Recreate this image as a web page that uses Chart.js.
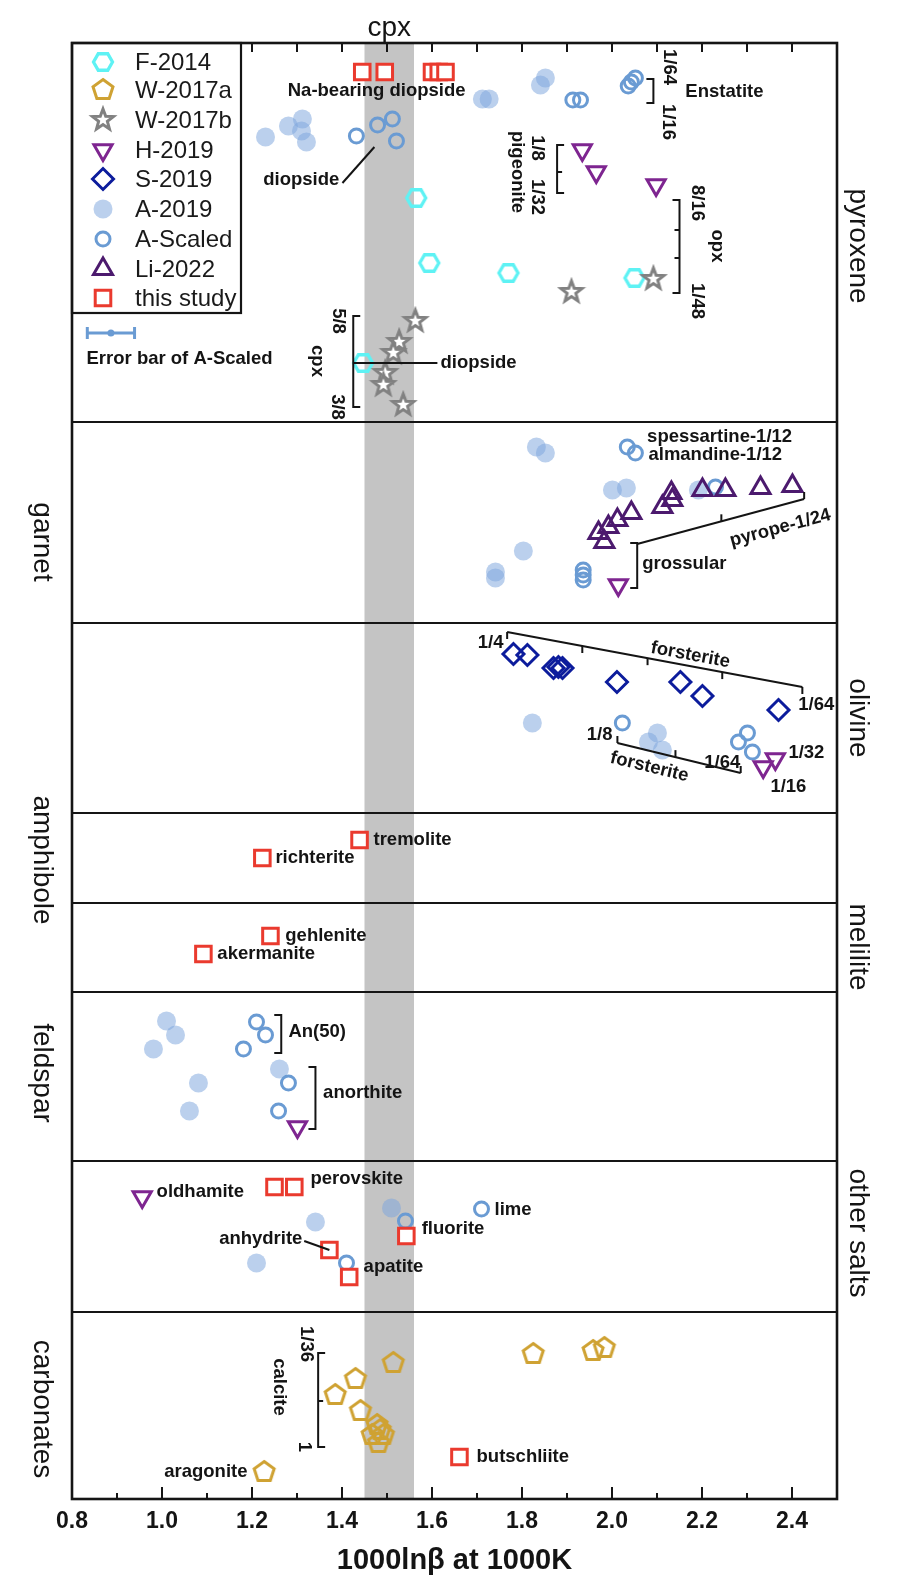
<!DOCTYPE html>
<html>
<head>
<meta charset="utf-8">
<script src="https://cdn.jsdelivr.net/npm/chart.js@4.4.1/dist/chart.umd.min.js"></script>
<style>
  html, body { margin: 0; padding: 0; background: #fff; }
  #wrap { width: 903px; height: 1592px; position: relative; }
</style>
</head>
<body>
<div id="wrap"><canvas id="chart"></canvas></div>
<script>
// ---- data ----
// x = 1000lnβ at 1000K, y = row position inside the stacked mineral panels (0 = top)
const xTicks = [0.8, 1.0, 1.2, 1.4, 1.6, 1.8, 2.0, 2.2, 2.4];
const cpxBand = [1.45, 1.56];
const panelEdges = [0, 379, 580, 770, 860, 949, 1118, 1269, 1456];
const panelNames = ['pyroxene', 'garnet', 'olivine', 'amphibole', 'melilite', 'feldspar', 'other salts', 'carbonates'];
const panelSides = ['right', 'left', 'right', 'left', 'right', 'left', 'right', 'left'];
const panelLabelY = [203, 499, 675, 817, 904, 1030, 1190, 1366];

const F2014 = [[1.565, 155], [1.594, 220], [1.770, 230], [2.050, 235], [1.447, 320]];
const W2017a = [[1.514, 1320], [1.430, 1336], [1.385, 1352], [1.441, 1368], [1.478, 1382], [1.485, 1387],
  [1.467, 1392], [1.492, 1392], [1.481, 1400], [1.227, 1429], [1.825, 1311], [1.958, 1308], [1.983, 1305]];
const W2017b = [[1.563, 278], [1.527, 299], [1.514, 310], [1.496, 330], [1.492, 342], [1.536, 362], [1.910, 249], [2.092, 236]];
const H2019 = [[1.934, 107], [1.965, 129], [2.098, 142], [2.014, 542], [2.363, 716], [2.336, 724], [1.301, 1084], [0.956, 1154]];
const S2019 = [[1.781, 611], [1.812, 612], [1.870, 625], [1.881, 624], [1.890, 625], [2.011, 639], [2.152, 639], [2.201, 653], [2.370, 667]];
const A2019 = [[1.230, 94], [1.281, 83], [1.312, 76], [1.310, 88], [1.321, 99], [1.712, 56], [1.727, 56], [1.841, 42], [1.852, 35],
  [1.832, 404], [1.852, 410], [2.001, 447], [2.032, 445], [1.803, 508], [1.741, 529], [1.741, 535], [2.192, 447],
  [1.823, 680], [2.081, 699], [2.101, 690], [2.112, 707],
  [1.010, 978], [1.030, 992], [0.981, 1006], [1.081, 1040], [1.061, 1068], [1.261, 1026],
  [1.341, 1179], [1.210, 1220], [1.510, 1165]];
const AScaled = [[1.432, 93], [1.479, 82], [1.512, 76], [1.521, 98], [1.913, 57], [1.930, 57], [2.036, 43], [2.043, 39], [2.052, 35],
  [2.034, 404], [2.052, 410], [1.936, 527], [1.936, 532], [1.936, 537], [2.230, 444],
  [2.023, 680], [2.301, 690], [2.281, 699], [2.312, 709],
  [1.210, 979], [1.230, 992], [1.181, 1006], [1.281, 1040], [1.259, 1068],
  [1.410, 1220], [1.541, 1178], [1.710, 1166]];
const Li2022 = [[1.970, 490], [1.992, 484], [2.012, 477], [2.043, 470], [1.983, 499], [2.112, 464], [2.132, 450], [2.134, 457],
  [2.201, 447], [2.252, 447], [2.330, 445], [2.401, 443]];
const thisStudy = [[1.445, 29], [1.495, 29], [1.600, 29], [1.615, 29], [1.630, 29], [1.439, 797], [1.223, 815], [1.241, 893], [1.092, 911],
  [1.250, 1144], [1.294, 1144], [1.372, 1207], [1.416, 1234], [1.543, 1193], [1.661, 1414]];

// annotation texts: [text, x, y, align, rotation deg]
const notes = [
  ['Na-bearing diopside', 1.477, 48, 'center', 0],
  ['diopside', 1.394, 137, 'right', 0],
  ['Enstatite', 2.163, 49, 'left', 0],
  ['1/64', 2.127, 24, 'center', 90],
  ['1/16', 2.125, 79, 'center', 90],
  ['1/8', 1.834, 105, 'center', 90],
  ['1/32', 1.834, 154, 'center', 90],
  ['pigeonite', 1.790, 129, 'center', 90],
  ['8/16', 2.190, 160, 'center', 90],
  ['opx', 2.234, 203, 'center', 90],
  ['1/48', 2.190, 258, 'center', 90],
  ['5/8', 1.392, 278, 'center', 90],
  ['cpx', 1.345, 318, 'center', 90],
  ['3/8', 1.388, 364, 'center', 90],
  ['diopside', 1.619, 320, 'left', 0],
  ['Error bar of A-Scaled', 1.039, 316, 'center', 0],
  ['spessartine-1/12', 2.078, 394, 'left', 0],
  ['almandine-1/12', 2.081, 412, 'left', 0],
  ['grossular', 2.067, 521, 'left', 0],
  ['pyrope-1/24', 2.374, 485, 'center', -15],
  ['1/4', 1.759, 600, 'right', 0],
  ['forsterite', 2.174, 612, 'center', 10.6],
  ['1/64', 2.414, 662, 'left', 0],
  ['1/8', 2.001, 692, 'right', 0],
  ['1/64', 2.245, 720, 'center', 0],
  ['forsterite', 2.083, 724, 'center', 13.7],
  ['1/32', 2.392, 710, 'left', 0],
  ['1/16', 2.352, 744, 'left', 0],
  ['tremolite', 1.470, 797, 'left', 0],
  ['richterite', 1.252, 815, 'left', 0],
  ['gehlenite', 1.274, 893, 'left', 0],
  ['akermanite', 1.123, 911, 'left', 0],
  ['An(50)', 1.281, 989, 'left', 0],
  ['anorthite', 1.358, 1050, 'left', 0],
  ['oldhamite', 0.988, 1149, 'left', 0],
  ['perovskite', 1.330, 1136, 'left', 0],
  ['anhydrite', 1.312, 1196, 'right', 0],
  ['apatite', 1.448, 1224, 'left', 0],
  ['fluorite', 1.577, 1186, 'left', 0],
  ['lime', 1.739, 1167, 'left', 0],
  ['1/36', 1.321, 1301, 'center', 90],
  ['calcite', 1.261, 1344, 'center', 90],
  ['1', 1.316, 1404, 'center', 90],
  ['aragonite', 1.190, 1429, 'right', 0],
  ['butschliite', 1.699, 1414, 'left', 0]
];
// straight leader lines
const leaders = [
  [[1.401, 140], [1.472, 104]],
  [[1.425, 320], [1.612, 320]],
  [[1.316, 1198], [1.372, 1207]]
];
// vertical brackets: [x, yTop, yBottom, middle ticks, tick direction]
const brackets = [
  [2.092, 36, 60, [], -1],
  [1.878, 102, 150, [129], 1],
  [2.150, 157, 250, [187, 215], -1],
  [1.425, 273, 364, [320], 1],
  [2.056, 500, 545, [], -1],
  [1.265, 972, 1010, [], -1],
  [1.341, 1024, 1086, [], -1],
  [1.347, 1310, 1404, [1358], 1]
];
// sloped brackets: [start, end, tick x values, tick direction]
const slopes = [
  [[2.056, 501], [2.427, 456], [2.243, 2.427], -1],
  [[1.767, 589], [2.423, 644], [1.767, 1.934, 2.079, 2.245, 2.423], 1],
  [[2.012, 700], [2.286, 730], [2.012, 2.141, 2.286], -1]
];

// ---- marker images ----
function marker(size, draw) {
  const c = document.createElement('canvas');
  c.width = size; c.height = size;
  const g = c.getContext('2d');
  g.translate(size / 2, size / 2);
  draw(g);
  return c;
}
function poly(g, pts) {
  g.beginPath();
  pts.forEach((p, i) => i ? g.lineTo(p[0], p[1]) : g.moveTo(p[0], p[1]));
  g.closePath();
}
function ngon(n, r, rot) {
  const pts = [];
  for (let i = 0; i < n; i++) {
    const a = rot + i * 2 * Math.PI / n;
    pts.push([r * Math.cos(a), r * Math.sin(a)]);
  }
  return pts;
}
const hexImg = marker(28, g => {
  poly(g, ngon(6, 9.5, 0));
  g.lineWidth = 3.3; g.strokeStyle = '#5ef2f4'; g.stroke();
});
const pentImg = marker(30, g => {
  poly(g, ngon(5, 10.5, -Math.PI / 2));
  g.lineWidth = 3; g.strokeStyle = '#cfa233'; g.stroke();
});
const starImg = marker(30, g => {
  const pts = [];
  for (let i = 0; i < 10; i++) {
    const a = -Math.PI / 2 + i * Math.PI / 5;
    const r = i % 2 ? 4.6 : 11;
    pts.push([r * Math.cos(a), r * Math.sin(a)]);
  }
  poly(g, pts);
  g.fillStyle = '#fff'; g.fill();
  g.lineWidth = 3; g.lineJoin = 'miter'; g.strokeStyle = '#818181'; g.stroke();
});

const toPts = arr => arr.map(p => ({ x: p[0], y: p[1] }));

const series = [
  { label: 'F-2014', data: F2014, pointStyle: hexImg },
  { label: 'W-2017a', data: W2017a, pointStyle: pentImg },
  { label: 'W-2017b', data: W2017b, pointStyle: starImg },
  { label: 'H-2019', data: H2019, pointStyle: 'triangle', rotation: 180, radius: 10.5, borderWidth: 3,
    borderColor: '#7e2590', backgroundColor: 'rgba(0,0,0,0)' },
  { label: 'S-2019', data: S2019, pointStyle: 'rectRot', radius: 10.5, borderWidth: 3,
    borderColor: '#0c1c9c', backgroundColor: 'rgba(0,0,0,0)' },
  { label: 'A-2019', data: A2019, pointStyle: 'circle', radius: 9.5, borderWidth: 0,
    borderColor: 'rgba(0,0,0,0)', backgroundColor: 'rgba(125,165,220,0.52)' },
  { label: 'A-Scaled', data: AScaled, pointStyle: 'circle', radius: 7, borderWidth: 3,
    borderColor: '#6a9bd3', backgroundColor: 'rgba(0,0,0,0)' },
  { label: 'Li-2022', data: Li2022, pointStyle: 'triangle', radius: 11, borderWidth: 3,
    borderColor: '#4c1a6e', backgroundColor: 'rgba(0,0,0,0)' },
  { label: 'this study', data: thisStudy, pointStyle: 'rect', radius: 11, borderWidth: 3,
    borderColor: '#ea3a2e', backgroundColor: '#ffffff' }
];
const drawOrder = ['A-2019', 'A-Scaled', 'F-2014', 'W-2017a', 'W-2017b', 'S-2019', 'Li-2022', 'H-2019', 'this study'];

const FONT = '"Liberation Sans", Arial, sans-serif';
const boldNote = 'bold 18.5px ' + FONT;

function drawText(ctx, str, x, y, align, rot, font) {
  ctx.save();
  ctx.translate(x, y);
  ctx.rotate(rot * Math.PI / 180);
  ctx.font = font;
  ctx.textAlign = align;
  ctx.textBaseline = 'middle';
  ctx.fillStyle = '#141414';
  ctx.fillText(str, 0, 0);
  ctx.restore();
}
function seg(ctx, x0, y0, x1, y1) {
  ctx.beginPath(); ctx.moveTo(x0, y0); ctx.lineTo(x1, y1); ctx.stroke();
}

const decor = {
  id: 'decor',
  beforeDatasetsDraw(chart) {
    const { ctx, chartArea: a, scales: { x, y } } = chart;
    ctx.save();
    const b0 = x.getPixelForValue(cpxBand[0]), b1 = x.getPixelForValue(cpxBand[1]);
    ctx.fillStyle = '#c4c4c4';
    ctx.fillRect(b0, a.top, b1 - b0, a.bottom - a.top);
    ctx.strokeStyle = '#151515';
    ctx.lineWidth = 2.2;
    panelEdges.slice(1, -1).forEach(v => {
      const py = Math.round(y.getPixelForValue(v));
      seg(ctx, a.left, py, a.right, py);
    });
    ctx.restore();
  },
  afterDatasetsDraw(chart) {
    const { ctx, chartArea: a, scales: { x, y } } = chart;
    const px = v => x.getPixelForValue(v), py = v => y.getPixelForValue(v);
    ctx.save();
    ctx.strokeStyle = '#141414';
    ctx.lineWidth = 2;
    ctx.lineCap = 'butt';
    leaders.forEach(l => seg(ctx, px(l[0][0]), py(l[0][1]), px(l[1][0]), py(l[1][1])));
    brackets.forEach(([bx, t, btm, mids, dir]) => {
      const X = px(bx), T = py(t), B = py(btm);
      seg(ctx, X, T - 1, X, B + 1);
      seg(ctx, X, T, X + 7 * dir, T);
      seg(ctx, X, B, X + 7 * dir, B);
      mids.forEach(m => seg(ctx, X, py(m), X + 5 * dir, py(m)));
    });
    slopes.forEach(([p0, p1, ticks, dir]) => {
      const x0 = px(p0[0]), y0 = py(p0[1]), x1 = px(p1[0]), y1 = py(p1[1]);
      seg(ctx, x0, y0, x1, y1);
      ticks.forEach(tv => {
        const tx = px(tv);
        const ty = y0 + (tx - x0) * (y1 - y0) / (x1 - x0);
        seg(ctx, tx, ty, tx, ty + 7 * dir);
      });
    });
    // A-Scaled error bar sample
    ctx.strokeStyle = '#6a9bd3';
    ctx.lineWidth = 3;
    const ey = py(290), ex0 = px(0.834), ex1 = px(0.939);
    seg(ctx, ex0, ey, ex1, ey);
    seg(ctx, ex0, ey - 6, ex0, ey + 6);
    seg(ctx, ex1, ey - 6, ex1, ey + 6);
    ctx.fillStyle = '#6a9bd3';
    ctx.beginPath(); ctx.arc((ex0 + ex1) / 2, ey, 3.5, 0, 2 * Math.PI); ctx.fill();

    notes.forEach(([s, nx, ny, al, rot]) => drawText(ctx, s, px(nx), py(ny), al, rot, boldNote));
    ctx.restore();
  },
  afterDraw(chart) {
    const { ctx, chartArea: a, scales: { x, y } } = chart;
    ctx.save();
    ctx.strokeStyle = '#151515';
    // inward ticks on top and bottom
    ctx.lineWidth = 2;
    for (let i = 1; i < 17; i++) {
      const v = 0.8 + i * 0.1;
      const tx = Math.round(x.getPixelForValue(v));
      const major = i % 2 === 0;
      seg(ctx, tx, a.bottom, tx, a.bottom - (major ? 12 : 6));
      seg(ctx, tx, a.top, tx, a.top + 9);
    }
    // legend box
    const lw = 169, lh = 270;
    ctx.fillStyle = '#fff';
    ctx.fillRect(a.left, a.top, lw, lh);
    ctx.lineWidth = 2.2;
    ctx.strokeRect(a.left, a.top, lw, lh);
    const rowY = [19, 47, 77, 107, 136, 166, 196, 226, 255];
    series.forEach((s, i) => {
      const cy = a.top + rowY[i], cx = a.left + 31;
      ctx.save();
      ctx.fillStyle = s.backgroundColor || 'rgba(0,0,0,0)';
      ctx.strokeStyle = s.borderColor || '#000';
      ctx.lineWidth = s.borderWidth || 0;
      Chart.helpers.drawPoint(ctx, {
        pointStyle: s.pointStyle, rotation: s.rotation || 0,
        radius: s.radius || 10, borderWidth: s.borderWidth || 0
      }, cx, cy);
      ctx.restore();
      ctx.font = '24px ' + FONT;
      ctx.fillStyle = '#1a1a1a';
      ctx.textAlign = 'left';
      ctx.textBaseline = 'middle';
      ctx.fillText(s.label, a.left + 63, cy + 1);
    });
    // frame
    ctx.lineWidth = 2.6;
    ctx.strokeRect(a.left, a.top, a.right - a.left, a.bottom - a.top);
    // panel names
    const reg = '28px ' + FONT;
    panelNames.forEach((n, i) => {
      const lx = panelSides[i] === 'left' ? a.left - 30 : a.right + 21;
      drawText(ctx, n, lx, y.getPixelForValue(panelLabelY[i]), 'center', 90, reg);
    });
    drawText(ctx, 'cpx', x.getPixelForValue((cpxBand[0] + cpxBand[1]) / 2), a.top - 15, 'center', 0, reg);
    ctx.restore();
  }
};

new Chart(document.getElementById('chart'), {
  type: 'scatter',
  data: {
    datasets: series.map(s => ({
      label: s.label,
      data: toPts(s.data),
      pointStyle: s.pointStyle,
      rotation: s.rotation || 0,
      pointRadius: s.radius || 10,
      borderWidth: s.borderWidth || 0,
      borderColor: s.borderColor || '#000',
      backgroundColor: s.backgroundColor || 'rgba(0,0,0,0)',
      order: drawOrder.length - drawOrder.indexOf(s.label)
    }))
  },
  options: {
    responsive: true,
    maintainAspectRatio: false,
    animation: false,
    events: [],
    layout: { padding: { left: 72, right: 66, top: 43, bottom: 0 } },
    plugins: { legend: { display: false }, tooltip: { enabled: false } },
    scales: {
      x: {
        type: 'linear',
        min: 0.8,
        max: 2.5,
        afterBuildTicks: scale => { scale.ticks = xTicks.map(v => ({ value: v })); },
        afterFit: scale => { scale.height = 93; },
        grid: { display: false, drawTicks: false },
        border: { display: false },
        ticks: {
          padding: 9,
          color: '#141414',
          font: { family: FONT, size: 23, weight: 'bold' },
          callback: v => Number(v).toFixed(1)
        },
        title: {
          display: true,
          text: '1000lnβ at 1000K',
          color: '#141414',
          font: { family: FONT, size: 29, weight: 'bold' },
          padding: { top: 0, bottom: 14 }
        }
      },
      y: {
        type: 'linear',
        display: false,
        min: 0,
        max: 1456,
        reverse: true
      }
    }
  },
  plugins: [decor]
});
</script>
</body>
</html>
